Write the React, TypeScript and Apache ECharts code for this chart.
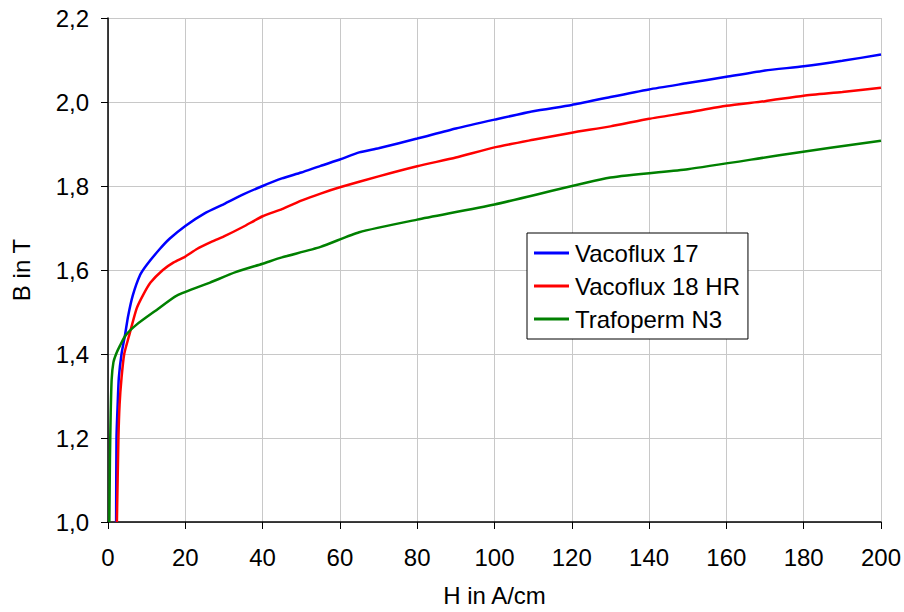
import React, { useEffect, useRef } from "react";
import * as echarts from "echarts";

const seriesNames = ["Vacoflux 17", "Vacoflux 18 HR", "Trafoperm N3"];
const seriesColors = ["#0000ff", "#ff0000", "#008000"];

const v17H = [2.1, 2.2, 2.5, 2.8, 3.5, 4.4, 5.2, 6.4, 8.3, 10, 13.4, 16, 20, 25, 30, 35, 40, 45, 50, 55, 60, 65, 70, 80, 90, 100, 110, 120, 130, 140, 150, 160, 170, 180, 190, 200];
const v17B = [1.0, 1.2, 1.28, 1.343, 1.4, 1.445, 1.49, 1.539, 1.588, 1.612, 1.65, 1.675, 1.705, 1.735, 1.757, 1.78, 1.8, 1.818, 1.832, 1.848, 1.863, 1.88, 1.89, 1.913, 1.937, 1.958, 1.978, 1.993, 2.012, 2.03, 2.045, 2.06, 2.075, 2.085, 2.098, 2.113];

const v18H = [2.3, 2.7, 3.0, 3.5, 4.2, 5.5, 7.4, 9, 11, 14.2, 17, 20, 23, 27, 30, 35, 40, 45, 50, 55, 60, 70, 80, 90, 100, 110, 120, 130, 140, 150, 160, 170, 180, 190, 200];
const v18B = [1.0, 1.2, 1.28, 1.343, 1.4, 1.445, 1.508, 1.539, 1.57, 1.6, 1.618, 1.632, 1.65, 1.668, 1.68, 1.703, 1.728, 1.745, 1.765, 1.782, 1.797, 1.823, 1.847, 1.868, 1.892, 1.91, 1.927, 1.942, 1.96, 1.975, 1.991, 2.002, 2.015, 2.024, 2.034];

const tN3H = [0.35, 0.5, 0.7, 0.95, 1.4, 2.1, 3.1, 4.6, 7.4, 12.6, 17.8, 26.4, 33, 40, 45, 55, 65, 80, 100, 130, 150, 175, 200];
const tN3B = [1.0, 1.15, 1.26, 1.34, 1.38, 1.4, 1.42, 1.445, 1.47, 1.505, 1.539, 1.57, 1.595, 1.615, 1.63, 1.655, 1.69, 1.72, 1.756, 1.82, 1.84, 1.875, 1.908];

const xTitle = "H in A/cm";
const yTitle = "B in T";

const zip = (h: number[], b: number[]) => h.map((x, i) => [x, b[i]]);

export default function App() {
  const ref = useRef<HTMLDivElement>(null);
  useEffect(() => {
    if (!ref.current) return;
    const chart = echarts.init(ref.current, null, { renderer: "svg" });
    const data = [zip(v17H, v17B), zip(v18H, v18B), zip(tN3H, tN3B)];
    const font = "Liberation Sans, Arial, sans-serif";
    chart.setOption({
      animation: false,
      backgroundColor: "#ffffff",
      textStyle: { fontFamily: font },
      grid: { left: 108, right: 22, top: 18, bottom: 86, containLabel: false },
      legend: {
        orient: "vertical",
        left: 527,
        top: 233,
        backgroundColor: "#ffffff",
        borderColor: "#000000",
        borderWidth: 1,
        borderRadius: 0,
        padding: [8, 8, 8, 7],
        itemGap: 9,
        itemWidth: 35,
        itemHeight: 3,
        icon: "rect",
        textStyle: { fontSize: 24, color: "#000", fontFamily: font, padding: [0, 0, 0, 1] },
        data: seriesNames,
      },
      xAxis: {
        type: "value",
        min: 0,
        max: 200,
        interval: 20,
        name: xTitle,
        nameLocation: "middle",
        nameGap: 61,
        nameTextStyle: { fontSize: 24, color: "#000", fontFamily: font },
        axisLine: { show: true, onZero: false, lineStyle: { color: "#000", width: 1.5 } },
        axisTick: { show: true, length: 7, lineStyle: { color: "#000" } },
        axisLabel: { fontSize: 24, color: "#000", margin: 23, fontFamily: font },
        splitLine: { show: true, lineStyle: { color: "#c8c8c8", width: 1 } },
      },
      yAxis: {
        type: "value",
        min: 1.0,
        max: 2.2,
        interval: 0.2,
        name: yTitle,
        nameLocation: "middle",
        nameGap: 75,
        nameTextStyle: { fontSize: 24, color: "#000", fontFamily: font },
        axisLine: { show: true, onZero: false, lineStyle: { color: "#000", width: 1.5 } },
        axisTick: { show: true, length: 7, lineStyle: { color: "#000" } },
        axisLabel: {
          fontSize: 24,
          color: "#000",
          margin: 19,
          fontFamily: font,
          formatter: (v: number) => v.toFixed(1).replace(".", ","),
        },
        splitLine: { show: true, lineStyle: { color: "#c8c8c8", width: 1 } },
      },
      series: seriesNames.map((name, i) => ({
        name,
        type: "line",
        data: data[i],
        showSymbol: false,
        symbol: "none",
        smooth: 0.2,
        color: seriesColors[i],
        lineStyle: { color: seriesColors[i], width: 2.5 },
      })),
    });
    return () => chart.dispose();
  }, []);
  return <div ref={ref} style={{ width: 904, height: 612, position: "absolute", left: 0, top: 0 }} />;
}
